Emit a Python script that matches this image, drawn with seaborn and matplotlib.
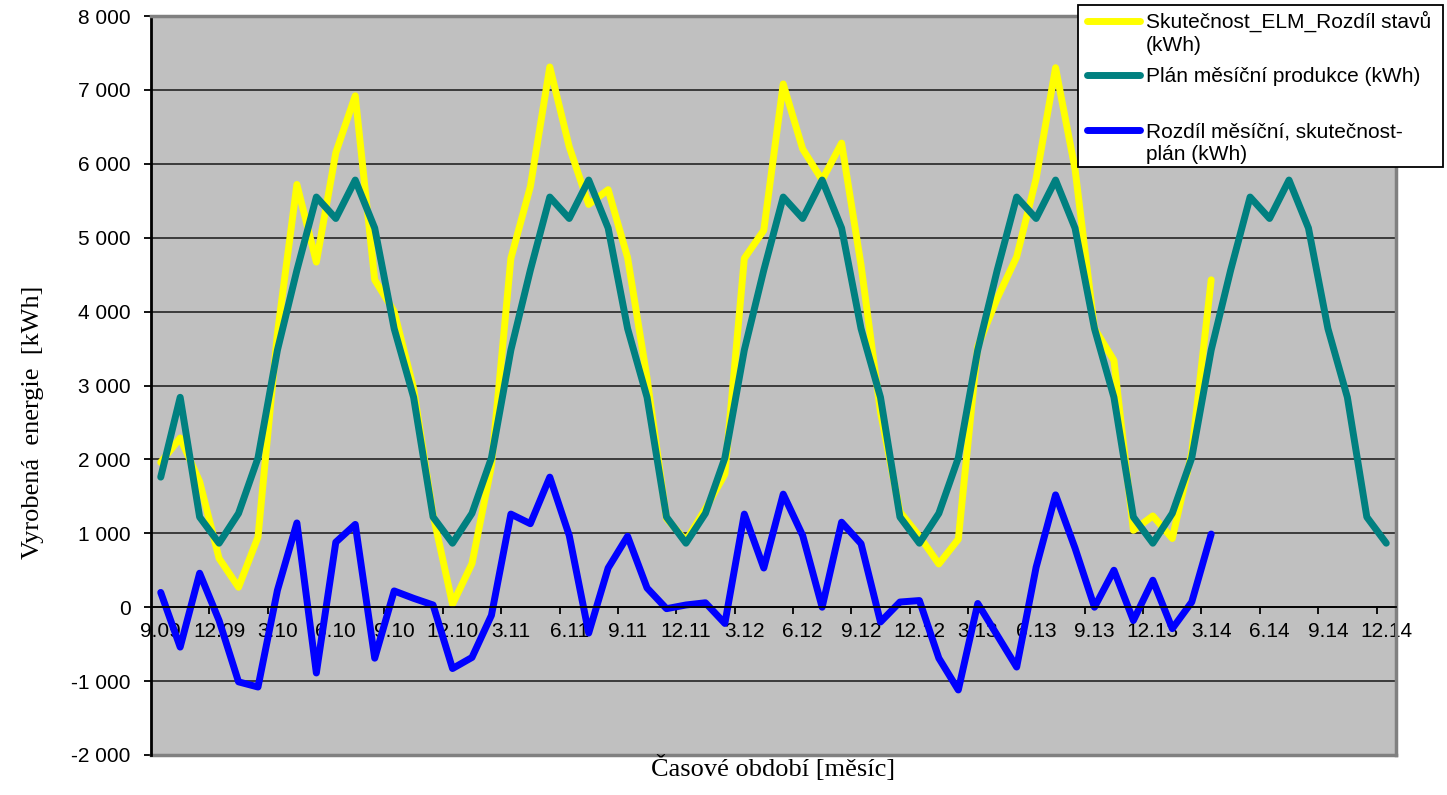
import matplotlib
matplotlib.use("Agg")
import matplotlib.pyplot as plt
import matplotlib.lines as mlines
import matplotlib.patches as mpatches
import seaborn as sns
import pandas as pd
import numpy as np

## monthly categories 9.09 .. 12.14
months = ["9.09", "10.09", "11.09", "12.09",
          "1.10", "2.10", "3.10", "4.10", "5.10", "6.10", "7.10", "8.10", "9.10", "10.10", "11.10", "12.10",
          "1.11", "2.11", "3.11", "4.11", "5.11", "6.11", "7.11", "8.11", "9.11", "10.11", "11.11", "12.11",
          "1.12", "2.12", "3.12", "4.12", "5.12", "6.12", "7.12", "8.12", "9.12", "10.12", "11.12", "12.12",
          "1.13", "2.13", "3.13", "4.13", "5.13", "6.13", "7.13", "8.13", "9.13", "10.13", "11.13", "12.13",
          "1.14", "2.14", "3.14", "4.14", "5.14", "6.14", "7.14", "8.14", "9.14", "10.14", "11.14", "12.14"]

## actual production (kWh), 9.09 .. 3.14
actual = [1960, 2290, 1700, 660,
          270, 950, 3710, 5720, 4670, 6150, 6920, 4430, 4000, 2960, 1250, 40,
          590, 1910, 4720, 5690, 7310, 6230, 5450, 5650, 4730, 3100, 1200, 900,
          1330, 1800, 4720, 5100, 7080, 6200, 5780, 6280, 4630, 2640, 1290, 960,
          585, 920, 3530, 4180, 4740, 5800, 7300, 5930, 3770, 3340, 1040, 1235,
          930, 2090, 4430]

## planned production (kWh), 9.09 .. 12.14
plan = [1760, 2840, 1220, 866,
        1270, 2020, 3480, 4560, 5550, 5260, 5780, 5130, 3770, 2840, 1220, 866,
        1270, 2020, 3480, 4560, 5550, 5260, 5780, 5130, 3770, 2840, 1220, 866,
        1270, 2020, 3480, 4560, 5550, 5260, 5780, 5130, 3770, 2840, 1220, 866,
        1270, 2020, 3480, 4560, 5550, 5260, 5780, 5130, 3770, 2840, 1220, 866,
        1270, 2020, 3480, 4560, 5550, 5260, 5780, 5130, 3770, 2840, 1220, 866]

## monthly difference actual - plan (kWh), 9.09 .. 3.14
diff = [200, -540, 460, -180,
        -1010, -1080, 230, 1140, -890, 880, 1120, -690, 220, 120, 30, -830,
        -680, -110, 1260, 1130, 1760, 970, -350, 530, 960, 260, -20, 30,
        60, -220, 1260, 530, 1530, 970, 0, 1150, 860, -200, 70, 90,
        -690, -1120, 50, -380, -810, 540, 1520, 800, 0, 500, -180, 365,
        -290, 70, 990]

names = ["Skutečnost_ELM_Rozdíl stavů (kWh)",
         "Plán měsíční produkce (kWh)",
         "Rozdíl měsíční, skutečnost-plán (kWh)"]
colors = ["#ffff00", "#008080", "#0000ff"]

df = pd.concat([
    pd.DataFrame({"idx": range(len(actual)), "value": actual, "series": names[0]}),
    pd.DataFrame({"idx": range(len(plan)), "value": plan, "series": names[1]}),
    pd.DataFrame({"idx": range(len(diff)), "value": diff, "series": names[2]}),
])

plt.rcParams["font.family"] = ["Liberation Sans", "DejaVu Sans"]

W, H = 1447, 795
fig = plt.figure(figsize=(W / 100, H / 100), dpi=100)
ax = fig.add_axes([151 / W, 40 / H, (1396 - 151) / W, (755 - 16) / H])
ax.set_facecolor("#c0c0c0")

sns.lineplot(data=df, x="idx", y="value", hue="series", hue_order=names,
             palette=colors, linewidth=5, legend=False, ax=ax,
             solid_joinstyle="round", solid_capstyle="round")
ax.set_xlabel("")
ax.set_ylabel("")

## spines first: moving the bottom spine resets the ticks
ax.spines["bottom"].set_position(("data", 0))
ax.spines["bottom"].set_color("black")
ax.spines["bottom"].set_linewidth(1.3)
ax.spines["left"].set_color("black")
ax.spines["left"].set_linewidth(2)
for s in ["top", "right"]:
    ax.spines[s].set_color("#808080")
    ax.spines[s].set_linewidth(2.5)
ax.axhline(-2000, color="#808080", linewidth=2.5, clip_on=False)

## y axis
ax.set_ylim(-2000, 8000)
yt = list(range(-2000, 8001, 1000))
ax.set_yticks(yt)
ax.set_yticklabels([f"{v:,}".replace(",", " ") for v in yt])
ax.tick_params(axis="y", direction="out", length=5, width=1.3, pad=9.5,
               colors="black", labelsize=15)
ax.yaxis.grid(True, color="#303030", linewidth=1.3)
ax.set_axisbelow(True)

## x axis (crosses at 0)
ax.set_xlim(-0.5, len(months) - 0.5)
ax.set_xticks(range(0, len(months), 3))
ax.set_xticklabels(months[::3])
ax.set_xticks(np.arange(2.5, len(months) - 1, 3), minor=True)
ax.tick_params(axis="x", which="major", length=0, pad=11, labelsize=15)
ax.tick_params(axis="x", which="minor", direction="out", length=5, width=1.3)

## axis titles
fig.text(773 / W, 1 - 768 / H, "Časové období [měsíc]", ha="center", va="center",
         fontname="Liberation Serif", fontsize=19)
fig.text(33 / W, 1 - 422 / H, "Vyrobená  energie  [kWh]", ha="center", va="center",
         rotation=90, fontname="Liberation Serif", fontsize=19)

## legend box drawn by hand (labels wrap like the original)
fig.add_artist(mpatches.Rectangle((1078 / W, 1 - 167 / H), (1443 - 1078) / W, (167 - 5) / H,
                                  transform=fig.transFigure, facecolor="white",
                                  edgecolor="black", linewidth=1.3, zorder=10))
entries = [(colors[0], 20.5, ["Skutečnost_ELM_Rozdíl stavů", "(kWh)"], [28, 51]),
           (colors[1], 75, ["Plán měsíční produkce (kWh)"], [82]),
           (colors[2], 129.5, ["Rozdíl měsíční, skutečnost-", "plán (kWh)"], [137, 160])]
for col, ly, lines, bases in entries:
    fig.add_artist(mlines.Line2D([1087 / W, 1140 / W], [1 - ly / H, 1 - ly / H],
                                 transform=fig.transFigure, color=col, linewidth=5,
                                 solid_capstyle="round", zorder=11))
    for txt, b in zip(lines, bases):
        fig.text(1146 / W, 1 - b / H, txt, ha="left", va="baseline",
                 fontsize=15, zorder=11)

fig.savefig("out.png", dpi=100)
